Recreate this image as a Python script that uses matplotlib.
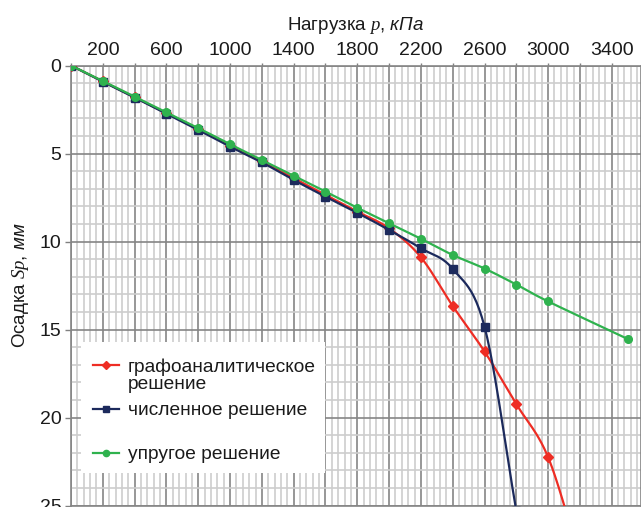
import numpy as np
import matplotlib.pyplot as plt
from matplotlib.ticker import FixedLocator, MultipleLocator, FuncFormatter
from matplotlib.patches import Rectangle

plt.rcParams['font.family'] = ['Liberation Sans', 'DejaVu Sans']
plt.rcParams['mathtext.fontset'] = 'custom'
plt.rcParams['mathtext.it'] = 'Liberation Serif:italic'
plt.rcParams['mathtext.rm'] = 'Liberation Sans'
plt.rcParams['mathtext.sf'] = 'Liberation Sans:italic'

# load p, kPa and settlement S, mm
p_graph = [0, 200, 400, 600, 800, 1000, 1200, 1400, 1600, 1800, 2000,
           2200, 2400, 2600, 2800, 3000, 3200]
s_graph = [0, 0.9, 1.8, 2.7, 3.6, 4.55, 5.45, 6.4, 7.35, 8.3, 9.25,
           10.89, 13.66, 16.24, 19.23, 22.25, 28.0]

p_num = [0, 200, 400, 600, 800, 1000, 1200, 1400, 1600, 1800, 2000,
         2200, 2400, 2600, 2800]
s_num = [0, 0.92, 1.82, 2.74, 3.66, 4.61, 5.5, 6.5, 7.45, 8.37, 9.34,
         10.38, 11.55, 14.83, 25.3]

p_el = [0, 200, 400, 600, 800, 1000, 1200, 1400, 1600, 1800, 2000,
        2200, 2400, 2600, 2800, 3000, 3500]
s_el = [0, 0.88, 1.77, 2.66, 3.55, 4.47, 5.37, 6.26, 7.16, 8.08, 8.96,
        9.84, 10.76, 11.53, 12.44, 13.4, 15.53]

labels = ['графоаналитическое\nрешение', 'численное решение', 'упругое решение']
colors = ['#ee2d24', '#1c2a5c', '#2fb24e']
markers = ['D', 's', 'o']
msizes = [5, 5.5, 5.5]


def smooth(x, y, n=24):
    # uniform Catmull-Rom, like Excel's smoothed line
    pts = np.column_stack([x, y]).astype(float)
    pts = np.vstack([2 * pts[0] - pts[1], pts, 2 * pts[-1] - pts[-2]])
    out = []
    t = np.linspace(0, 1, n, endpoint=False)[:, None]
    for i in range(1, len(pts) - 2):
        p0, p1, p2, p3 = pts[i - 1], pts[i], pts[i + 1], pts[i + 2]
        m1 = (p2 - p0) / 2
        m2 = (p3 - p1) / 2
        h00 = 2 * t**3 - 3 * t**2 + 1
        h10 = t**3 - 2 * t**2 + t
        h01 = -2 * t**3 + 3 * t**2
        h11 = t**3 - t**2
        out.append(h00 * p1 + h10 * m1 + h01 * p2 + h11 * m2)
    out.append(pts[-2][None, :])
    c = np.vstack(out)
    return c[:, 0], c[:, 1]


fig = plt.figure(figsize=(6.41, 5.07), dpi=100)
ax = fig.add_axes([0.1108, 0.0026, 0.8892, 0.8682])

series = [(p_graph, s_graph), (p_num, s_num), (p_el, s_el)]
for (x, y), c, m, ms in zip(series, colors, markers, msizes):
    xs, ys = smooth(x, y)
    ax.plot(xs, ys, color=c, lw=1.6, zorder=4)
    ax.plot(x, y, ls='none', marker=m, ms=ms, color=c, zorder=4)

ax.set_xlim(0, 3584)
ax.set_ylim(25, 0)

ax.xaxis.set_major_locator(FixedLocator(np.arange(0, 3600, 200)))
ax.xaxis.set_minor_locator(MultipleLocator(40))
ax.xaxis.set_major_formatter(FuncFormatter(
    lambda v, pos: str(int(v)) if int(v) % 400 == 200 else ''))
ax.yaxis.set_major_locator(MultipleLocator(5))
ax.yaxis.set_minor_locator(MultipleLocator(1))

ax.xaxis.tick_top()
ax.xaxis.set_label_position('top')
ax.tick_params(axis='x', which='major', length=2.5, width=1, color='#808080',
               labelsize=14, pad=2.5, labelcolor='#1a1a1a')
ax.tick_params(axis='y', which='major', length=4, width=1, color='#808080',
               labelsize=14, pad=3, labelcolor='#1a1a1a')
ax.tick_params(which='minor', length=0)

ax.set_axisbelow(True)
ax.grid(which='minor', color='#cdcdcd', lw=1.2)
ax.grid(which='major', color='#858585', lw=1.2)
for sp in ax.spines.values():
    sp.set_color('#858585')
    sp.set_linewidth(1.2)

ax.set_xlabel('Нагрузка $p$, $\\mathsf{кПа}$', fontsize=13.5, labelpad=8,
              color='#1a1a1a')
ax.set_ylabel('Осадка $Sp$, $\\mathsf{мм}$', fontsize=13.5, labelpad=6,
              color='#1a1a1a')

# legend box drawn by hand so the handle sits on the first text line
ax.add_patch(Rectangle((0.0175, 0.0743), 0.428, 0.298, transform=ax.transAxes,
                       facecolor='white', edgecolor='none', zorder=3))
entry_y = [0.319, 0.219, 0.12]
for yy, lab, c, m, ms in zip(entry_y, labels, colors, markers, msizes):
    ax.plot([0.038, 0.084], [yy, yy], transform=ax.transAxes, color=c,
            lw=1.6, zorder=5, clip_on=False)
    ax.plot([0.061], [yy], transform=ax.transAxes, color=c, marker=m,
            ms=ms - 1, zorder=5, clip_on=False)
    ax.text(0.0995, yy + 0.016, lab, transform=ax.transAxes, fontsize=13.8,
            va='top', ha='left', color='#1a1a1a', zorder=6, linespacing=1.0)

fig.savefig('out.png', dpi=100)
